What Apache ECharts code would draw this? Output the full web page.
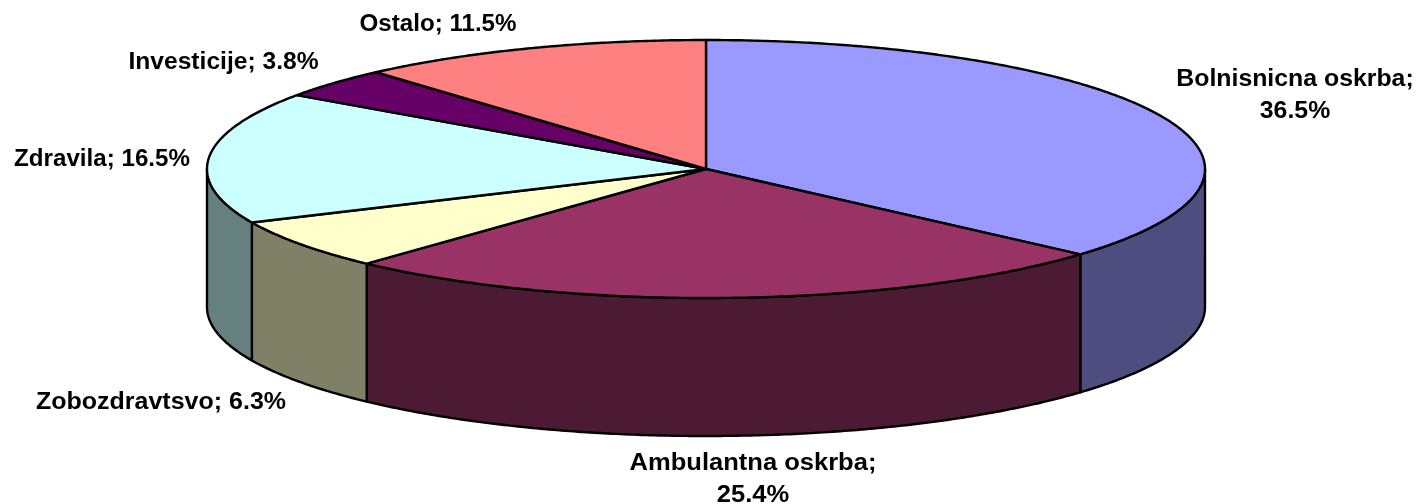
<!DOCTYPE html>
<html><head><meta charset="utf-8">
<style>html,body{margin:0;padding:0;background:#fff}#c{width:1420px;height:504px}</style>
<script src="https://cdn.jsdelivr.net/npm/echarts@6/dist/echarts.min.js"></script>
</head><body><div id="c"></div>
<script>
var categories = ['Bolnisnicna oskrba', 'Ambulantna oskrba', 'Zobozdravtsvo', 'Zdravila', 'Investicije', 'Ostalo'];
var shares = [36.5, 25.4, 6.3, 16.5, 3.8, 11.5];
var labelTexts = ['Bolnisnicna oskrba;\n36.5%', 'Ambulantna oskrba;\n25.4%', 'Zobozdravtsvo; 6.3%', 'Zdravila; 16.5%', 'Investicije; 3.8%', 'Ostalo; 11.5%'];
var topColors = ['#9999FF', '#993366', '#FFFFCC', '#CCFFFF', '#660066', '#FF8080'];
var sideColors = ['#4D4D80', '#4D1A33', '#808066', '#668080', '#330033', '#804040'];
var labelCenters = [[1295, 96], [753, 480], [161, 403], [102, 160], [223.5, 63], [438, 25]];
var labelStretch = [1.08, 1.11, 1.087, 1.05, 1.07, 1.05];

var geo = { cx: 706, cy: 169, rx: 499, ry: 129, depth: 138 };
var total = shares.reduce(function (a, b) { return a + b; }, 0);
function bounds(i) {
  var sum = 0;
  for (var k = 0; k < i; k++) sum += shares[k];
  return [sum / total * 360, (sum + shares[i]) / total * 360];
}
function pt(deg, dy) {
  var t = deg * Math.PI / 180;
  return [geo.cx + geo.rx * Math.sin(t), geo.cy - geo.ry * Math.cos(t) + (dy || 0)];
}
function arc(a, b, dy) {
  var pts = [], n = Math.max(2, Math.ceil(Math.abs(b - a) * 2));
  for (var j = 0; j <= n; j++) pts.push(pt(a + (b - a) * j / n, dy));
  return pts;
}
var lineStyle = { stroke: '#000', lineWidth: 2.4, lineJoin: 'round' };
function seriesData() { return shares.map(function (v, i) { return { name: categories[i], value: [v] }; }); }

var chart = echarts.init(document.getElementById('c'), null, { renderer: 'canvas' });
chart.setOption({
  animation: false,
  backgroundColor: '#fff',
  series: [
    { type: 'custom', coordinateSystem: 'none', z: 1, data: seriesData(),
      renderItem: function (p) {
        var b = bounds(p.dataIndex), a0 = Math.max(b[0], 90), a1 = Math.min(b[1], 270);
        if (a1 <= a0) return { type: 'group', children: [] };
        var pts = arc(a0, a1, 0).concat(arc(a1, a0, geo.depth));
        return { type: 'polygon', shape: { points: pts },
          style: Object.assign({ fill: sideColors[p.dataIndex] }, lineStyle) };
      } },
    { type: 'custom', coordinateSystem: 'none', z: 2, data: seriesData(),
      renderItem: function (p) {
        var b = bounds(p.dataIndex);
        var pts = [[geo.cx, geo.cy]].concat(arc(b[0], b[1], 0));
        return { type: 'polygon', shape: { points: pts },
          style: Object.assign({ fill: topColors[p.dataIndex] }, lineStyle) };
      } },
    { type: 'custom', coordinateSystem: 'none', z: 3, data: seriesData(),
      renderItem: function (p) {
        var c = labelCenters[p.dataIndex];
        return { type: 'text', x: c[0], y: c[1], scaleX: labelStretch[p.dataIndex], silent: true,
          style: { text: labelTexts[p.dataIndex], fill: '#000', align: 'center', verticalAlign: 'middle',
            font: 'bold 23px "Liberation Sans", Arial, sans-serif', lineHeight: 32 } };
      } }
  ]
});
</script></body></html>
